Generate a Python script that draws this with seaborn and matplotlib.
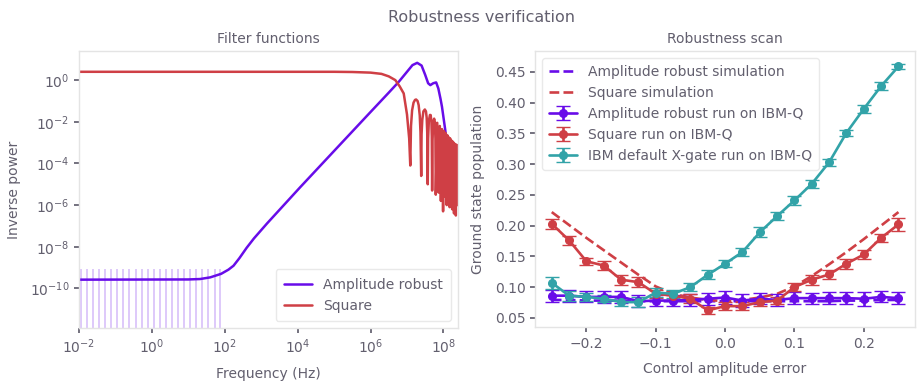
import numpy as np
import pandas as pd
import matplotlib
matplotlib.use("Agg")
import matplotlib.pyplot as plt
import seaborn as sns

# 색상 / 스타일
purple = "#680CE9"
red = "#CF3F45"
teal = "#32A3A8"
text_gray = "#625f6e"

sns.set_theme(style="white")
plt.rcParams["font.family"] = ["DejaVu Sans"]
plt.rcParams.update({
    "text.color": text_gray,
    "axes.labelcolor": text_gray,
    "xtick.color": text_gray,
    "ytick.color": text_gray,
    "axes.edgecolor": "#e4e4e4",
    "axes.linewidth": 1.0,
    "xtick.bottom": True,
    "ytick.left": True,
    "xtick.major.size": 3.5,
    "ytick.major.size": 3.5,
    "xtick.labelsize": 10,
    "ytick.labelsize": 10,
})

# ---- filter functions (log10 frequency, log10 inverse power) ----
robust_logf = [-2.0, 1.0, 1.32, 1.6, 1.9, 2.1, 2.24, 2.4, 2.6, 2.8, 3.16, 4.07, 5.08, 6.0, 6.5, 6.77,
               7.0, 7.15, 7.28, 7.4, 7.5, 7.58, 7.64, 7.72, 7.80, 7.86, 7.92, 7.96,
               8.05, 8.12, 8.18, 8.22, 8.26, 8.29, 8.33, 8.36, 8.4]
robust_logv = [-9.58, -9.57, -9.55, -9.47, -9.3, -9.1, -8.91, -8.55, -8.05, -7.6, -6.88, -5.14, -3.25,
               -1.53, -0.6, -0.09,
               0.4, 0.72, 0.83, 0.7, 0.25, -0.15, -0.24, -0.15, -0.11, -0.4, -0.9, -1.28,
               -2.4, -3.4, -4.3, -4.8, -4.6, -5.2, -5.45, -5.0, -5.6]

square_logf = [-2.0, 5.0, 5.5, 6.0, 6.3, 6.5, 6.68, 6.8, 6.91, 7.0, 7.06, 7.09,
               7.11, 7.14, 7.18, 7.22, 7.25, 7.29, 7.32, 7.35, 7.37, 7.39,
               7.40, 7.42, 7.45, 7.49, 7.52, 7.54, 7.555, 7.57,
               7.58, 7.60, 7.63, 7.65, 7.67, 7.68, 7.69,
               7.70, 7.72, 7.745, 7.765, 7.78, 7.79,
               7.83, 7.87, 7.90, 7.93, 7.96, 7.99,
               8.015, 8.04, 8.065, 8.09, 8.11, 8.13, 8.15, 8.17, 8.185, 8.2,
               8.22, 8.24, 8.255, 8.27, 8.28, 8.29, 8.305, 8.32, 8.33, 8.34,
               8.355, 8.37, 8.38, 8.39, 8.4]
square_logv = [0.40, 0.40, 0.39, 0.36, 0.30, 0.18, 0.0, -0.3, -0.64, -1.65, -2.8, -4.1,
               -2.2, -1.45, -1.08, -0.95, -0.93, -1.0, -1.2, -1.7, -2.5, -4.6,
               -2.6, -1.9, -1.5, -1.41, -1.5, -1.8, -2.5, -5.0,
               -2.8, -1.95, -1.67, -1.68, -2.0, -2.7, -5.3,
               -2.9, -2.0, -1.85, -2.0, -2.8, -5.5,
               -2.05, -5.4, -2.2, -5.8, -2.35, -6.3,
               -2.45, -5.6, -2.55, -6.0, -2.65, -5.5, -2.75, -6.1, -2.8, -5.3,
               -2.9, -6.2, -2.95, -5.7, -3.0, -6.4, -3.05, -5.5, -3.1, -6.5,
               -3.1, -5.2, -3.15, -6.0, -3.2]

# 불확실성 구간 (저주파 세로 줄)
band_logf = [-1.95, -1.78, -1.62, -1.45, -1.28, -1.12, -0.95, -0.78, -0.62, -0.45, -0.28,
             -0.12, 0.05, 0.22, 0.38, 0.55, 0.72, 0.88, 1.05, 1.22, 1.38, 1.55, 1.72, 1.88]
band_top = [-9.05] * len(band_logf)

# ---- robustness scan ----
amp_error = [-0.25, -0.225, -0.2, -0.175, -0.15, -0.125, -0.1, -0.075, -0.05, -0.025, 0.0,
             0.025, 0.05, 0.075, 0.1, 0.125, 0.15, 0.175, 0.2, 0.225, 0.25]
robust_sim = [0.079, 0.079, 0.078, 0.078, 0.078, 0.077, 0.077, 0.077, 0.077, 0.077, 0.077,
              0.077, 0.077, 0.077, 0.077, 0.077, 0.077, 0.078, 0.078, 0.079, 0.079]
square_sim = [0.222, 0.201, 0.180, 0.160, 0.140, 0.120, 0.101, 0.089, 0.083, 0.079, 0.077,
              0.079, 0.083, 0.089, 0.101, 0.118, 0.137, 0.157, 0.178, 0.200, 0.222]
robust_run = [0.086, 0.086, 0.084, 0.084, 0.084, 0.077, 0.078, 0.078, 0.079, 0.081, 0.083,
              0.078, 0.081, 0.079, 0.082, 0.082, 0.082, 0.082, 0.081, 0.084, 0.082]
robust_err = [0.010, 0.010, 0.009, 0.010, 0.010, 0.010, 0.009, 0.009, 0.010, 0.010, 0.010,
              0.010, 0.009, 0.009, 0.010, 0.009, 0.010, 0.010, 0.011, 0.009, 0.010]
square_run = [0.203, 0.176, 0.142, 0.135, 0.112, 0.108, 0.089, 0.086, 0.081, 0.062, 0.069,
              0.069, 0.0755, 0.078, 0.100, 0.112, 0.1205, 0.138, 0.153, 0.180, 0.202]
square_err = [0.008, 0.007, 0.006, 0.007, 0.008, 0.008, 0.007, 0.007, 0.007, 0.006, 0.007,
              0.007, 0.007, 0.006, 0.007, 0.008, 0.008, 0.008, 0.007, 0.007, 0.010]
ibm_run = [0.107, 0.086, 0.084, 0.081, 0.0755, 0.0755, 0.091, 0.089, 0.100, 0.120, 0.138,
           0.157, 0.189, 0.2155, 0.241, 0.268, 0.303, 0.351, 0.390, 0.427, 0.459]
ibm_err = [0.010, 0.008, 0.006, 0.006, 0.007, 0.008, 0.007, 0.007, 0.007, 0.007, 0.006,
           0.007, 0.008, 0.006, 0.008, 0.007, 0.006, 0.005, 0.007, 0.007, 0.004]

fig = plt.figure(figsize=(9.21, 3.87), dpi=100)
ax1 = fig.add_axes([0.0858, 0.1525, 0.4115, 0.7158])
ax2 = fig.add_axes([0.581, 0.155, 0.4126, 0.713])

# 왼쪽: filter functions
ax1.set_xscale("log")
ax1.set_yscale("log")
ax1.vlines(10.0 ** np.array(band_logf), 1e-13, 10.0 ** np.array(band_top),
           color=purple, alpha=0.22, linewidth=1.4)
df_r = pd.DataFrame({"f": 10.0 ** np.array(robust_logf), "v": 10.0 ** np.array(robust_logv)})
df_s = pd.DataFrame({"f": 10.0 ** np.array(square_logf), "v": 10.0 ** np.array(square_logv)})
sns.lineplot(data=df_r, x="f", y="v", ax=ax1, color=purple, linewidth=1.8,
             label="Amplitude robust", sort=False)
sns.lineplot(data=df_s, x="f", y="v", ax=ax1, color=red, linewidth=1.8,
             label="Square", sort=False)
ax1.set_xlim(1e-2, 10 ** 8.4)
ax1.set_ylim(10 ** -11.9, 10 ** 1.4)
ax1.set_xticks([1e-2, 1e0, 1e2, 1e4, 1e6, 1e8])
ax1.set_yticks([1e0, 1e-2, 1e-4, 1e-6, 1e-8, 1e-10])
ax1.minorticks_off()
ax1.set_title("Filter functions", fontsize=10, color=text_gray)
ax1.set_xlabel("Frequency (Hz)", fontsize=10, labelpad=8)
ax1.set_ylabel("Inverse power", fontsize=10, labelpad=6)
ax1.legend(loc="lower right", fontsize=10, frameon=True, edgecolor="#e4e4e4",
           handlelength=2.0, borderpad=0.6)

# 오른쪽: robustness scan
sns.lineplot(x=amp_error, y=robust_sim, ax=ax2, color=purple, linestyle="--",
             linewidth=1.9, label="Amplitude robust simulation")
sns.lineplot(x=amp_error, y=square_sim, ax=ax2, color=red, linestyle="--",
             linewidth=1.9, label="Square simulation")
ax2.errorbar(amp_error, robust_run, yerr=robust_err, color=purple, marker="o", markersize=5.5,
             linewidth=1.9, capsize=5, label="Amplitude robust run on IBM-Q")
ax2.errorbar(amp_error, square_run, yerr=square_err, color=red, marker="o", markersize=5.5,
             linewidth=1.9, capsize=5, label="Square run on IBM-Q")
ax2.errorbar(amp_error, ibm_run, yerr=ibm_err, color=teal, marker="o", markersize=5.5,
             linewidth=1.9, capsize=5, label="IBM default X-gate run on IBM-Q")
ax2.set_xlim(-0.274, 0.274)
ax2.set_ylim(0.035, 0.484)
ax2.set_xticks([-0.2, -0.1, 0.0, 0.1, 0.2])
ax2.set_yticks([0.05, 0.10, 0.15, 0.20, 0.25, 0.30, 0.35, 0.40, 0.45])
ax2.set_title("Robustness scan", fontsize=10, color=text_gray)
ax2.set_xlabel("Control amplitude error", fontsize=10, labelpad=8)
ax2.set_ylabel("Ground state population", fontsize=10, labelpad=7)
ax2.legend(loc="upper left", fontsize=10, frameon=True, edgecolor="#e4e4e4",
           handlelength=2.0, borderpad=0.5)

fig.suptitle("Robustness verification", fontsize=11.5, color=text_gray, x=0.523, y=0.975)

fig.savefig("out.png", dpi=100)
